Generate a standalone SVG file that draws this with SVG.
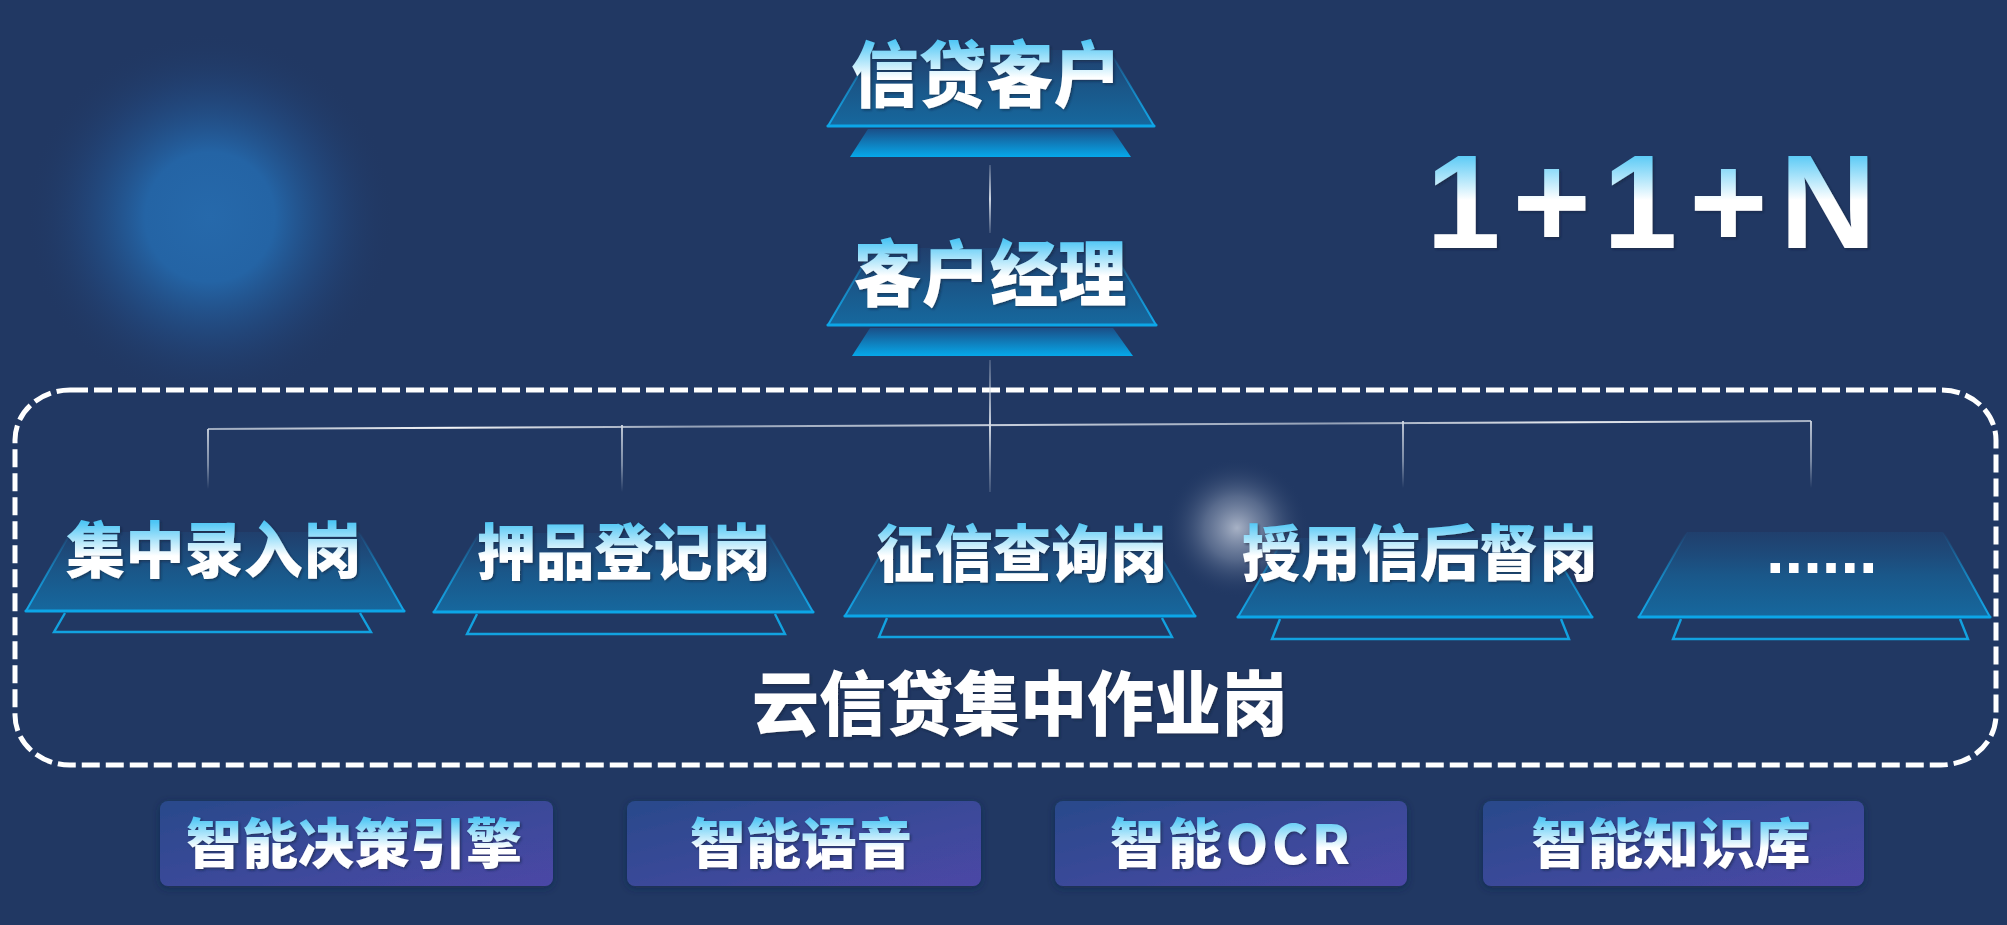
<svg xmlns="http://www.w3.org/2000/svg" width="2007" height="925" viewBox="0 0 2007 925">
<defs>
  <style>
    .cjk{font-family:"Noto Sans CJK SC","Noto Sans",sans-serif;font-weight:900;text-anchor:middle}
    .side{fill:none;stroke:url(#sideG);stroke-width:2}
    .base{stroke:#0ca6e8;stroke-width:3.2;stroke-linecap:round}
    .up{fill:url(#upG)}
    .low{fill:url(#lowG)}
    .lowline{fill:none;stroke:#12a2e0;stroke-width:2.4;stroke-linejoin:miter}
    .btn{fill:url(#btnG)}
    .drop{fill:url(#dropG)}
  </style>
  <radialGradient id="bigGlow" cx="0.5" cy="0.5" r="0.5">
    <stop offset="0" stop-color="#2669ab"/>
    <stop offset="0.35" stop-color="#2464a5"/>
    <stop offset="0.7" stop-color="#22487e" stop-opacity="0.6"/>
    <stop offset="1" stop-color="#213863" stop-opacity="0"/>
  </radialGradient>
  <radialGradient id="whiteGlow" cx="0.5" cy="0.5" r="0.5">
    <stop offset="0" stop-color="#d4dae6" stop-opacity="0.75"/>
    <stop offset="0.45" stop-color="#a9b4c9" stop-opacity="0.4"/>
    <stop offset="1" stop-color="#213863" stop-opacity="0"/>
  </radialGradient>
  <linearGradient id="upG" x1="0" y1="0" x2="0" y2="1">
    <stop offset="0" stop-color="#1e4e80" stop-opacity="0.35"/>
    <stop offset="0.5" stop-color="#1a5789"/>
    <stop offset="1" stop-color="#16689e"/>
  </linearGradient>
  <linearGradient id="sideG" x1="0" y1="0" x2="0" y2="1">
    <stop offset="0" stop-color="#13a8ea" stop-opacity="0"/>
    <stop offset="0.5" stop-color="#13a8ea" stop-opacity="0.6"/>
    <stop offset="1" stop-color="#13a8ea"/>
  </linearGradient>
  <linearGradient id="lowG" x1="0" y1="0" x2="0" y2="1">
    <stop offset="0" stop-color="#1a4f88"/>
    <stop offset="1" stop-color="#06a8ea"/>
  </linearGradient>
  <linearGradient id="btnG" x1="0" y1="0" x2="1" y2="1">
    <stop offset="0" stop-color="#294a8b"/>
    <stop offset="1" stop-color="#4b47a6"/>
  </linearGradient>
  <linearGradient id="dropG" x1="0" y1="0" x2="0" y2="1">
    <stop offset="0" stop-color="#d0d7e2" stop-opacity="0.9"/>
    <stop offset="0.6" stop-color="#b5c0d0" stop-opacity="0.6"/>
    <stop offset="1" stop-color="#b5c0d0" stop-opacity="0"/>
  </linearGradient>
  <linearGradient id="midG" x1="0" y1="0" x2="0" y2="1">
    <stop offset="0" stop-color="#d0d7e2" stop-opacity="0.2"/>
    <stop offset="0.5" stop-color="#d8dee8" stop-opacity="0.95"/>
    <stop offset="1" stop-color="#d0d7e2" stop-opacity="0.15"/>
  </linearGradient>
  <linearGradient id="hG" gradientUnits="userSpaceOnUse" x1="208" y1="0" x2="1811" y2="0">
    <stop offset="0" stop-color="#c5cedb" stop-opacity="0.75"/>
    <stop offset="0.15" stop-color="#ffffff" stop-opacity="0.95"/>
    <stop offset="0.3" stop-color="#c5cedb" stop-opacity="0.7"/>
    <stop offset="0.5" stop-color="#d8dee8" stop-opacity="0.9"/>
    <stop offset="0.7" stop-color="#c5cedb" stop-opacity="0.7"/>
    <stop offset="0.85" stop-color="#ffffff" stop-opacity="0.9"/>
    <stop offset="1" stop-color="#c5cedb" stop-opacity="0.8"/>
  </linearGradient>
  <linearGradient id="t1" gradientUnits="userSpaceOnUse" x1="0" y1="40" x2="0" y2="78">
    <stop offset="0" stop-color="#4ec6f5"/><stop offset="1" stop-color="#ffffff"/>
  </linearGradient>
  <linearGradient id="t2" gradientUnits="userSpaceOnUse" x1="0" y1="240" x2="0" y2="276">
    <stop offset="0" stop-color="#4ec6f5"/><stop offset="1" stop-color="#ffffff"/>
  </linearGradient>
  <linearGradient id="t3" gradientUnits="userSpaceOnUse" x1="0" y1="522" x2="0" y2="556">
    <stop offset="0" stop-color="#4ec6f5"/><stop offset="1" stop-color="#ffffff"/>
  </linearGradient>
  <linearGradient id="t4" gradientUnits="userSpaceOnUse" x1="0" y1="818" x2="0" y2="848">
    <stop offset="0" stop-color="#4ec6f5"/><stop offset="1" stop-color="#ffffff"/>
  </linearGradient>
  <linearGradient id="t5" gradientUnits="userSpaceOnUse" x1="0" y1="152" x2="0" y2="200">
    <stop offset="0" stop-color="#4ec6f5"/><stop offset="1" stop-color="#ffffff"/>
  </linearGradient>
  <filter id="ts" x="-10%" y="-20%" width="120%" height="140%">
    <feDropShadow dx="1.5" dy="1.5" stdDeviation="0.8" flood-color="#0c1b36" flood-opacity="0.55"/>
  </filter>
  <filter id="bs" x="-10%" y="-20%" width="120%" height="140%">
    <feDropShadow dx="0" dy="2" stdDeviation="4" flood-color="#16264a" flood-opacity="0.6"/>
  </filter>
</defs>

<rect x="0" y="0" width="2007" height="925" fill="#213863"/>
<ellipse cx="210" cy="217" rx="185" ry="185" fill="url(#bigGlow)"/>
<ellipse cx="1237" cy="528" rx="72" ry="70" fill="url(#whiteGlow)"/>

<text x="1426" y="248" font-family="Liberation Sans, Arial, sans-serif" font-weight="700" font-size="134" letter-spacing="12" fill="url(#t5)" filter="url(#ts)">1+1+N</text>

<rect id="frame" x="15" y="390" width="1981" height="375" rx="55" ry="50" fill="none" stroke="#ffffff" stroke-width="5" stroke-dasharray="18 6"/>

<g id="connectors">
  <rect x="989" y="165" width="2" height="68" fill="url(#midG)"/>
  <rect x="989" y="360" width="2" height="132" fill="url(#midG)"/>
  <line x1="208" y1="429" x2="1811" y2="421" stroke="url(#hG)" stroke-width="2"/>
  <rect x="207" y="429" width="2" height="60" class="drop"/>
  <rect x="621" y="425" width="2" height="67" class="drop"/>
  <rect x="1402" y="421" width="2" height="67" class="drop"/>
  <rect x="1810" y="421" width="2" height="67" class="drop"/>
</g>

<g id="node-xindaikehu">
  <polygon class="low" points="868,129 1112,129 1131,157 850,157"/>
  <polygon class="up" points="873,50 1109,50 1154,126 828,126"/>
  <path class="side" d="M873,50 L828,126 M1109,50 L1154,126"/>
  <line class="base" x1="828" y1="126" x2="1154" y2="126"/>
  <text class="cjk" x="986" y="101" font-size="72" textLength="270" lengthAdjust="spacingAndGlyphs" fill="url(#t1)" filter="url(#ts)">信贷客户</text>
</g>

<g id="node-kehujingli">
  <polygon class="low" points="870,328 1113,328 1133,356 852,356"/>
  <polygon class="up" points="873,248 1111,248 1156,325 828,325"/>
  <path class="side" d="M873,248 L828,325 M1111,248 L1156,325"/>
  <line class="base" x1="828" y1="325" x2="1156" y2="325"/>
  <text class="cjk" x="990" y="300" font-size="72" textLength="273" lengthAdjust="spacingAndGlyphs" fill="url(#t2)" filter="url(#ts)">客户经理</text>
</g>

<g id="node-jizhongluru">
  <path class="lowline" d="M65,613 L54,632 L371,632 L360,613"/>
  <polygon class="up" points="71,532 359,532 404,611 26,611"/>
  <path class="side" d="M71,532 L26,611 M359,532 L404,611"/>
  <line class="base" x1="26" y1="611" x2="404" y2="611"/>
  <text class="cjk" x="214" y="573" font-size="61" textLength="296" lengthAdjust="spacingAndGlyphs" fill="url(#t3)" filter="url(#ts)">集中录入岗</text>
</g>

<g id="node-yapindengji">
  <path class="lowline" d="M477,614 L467,634 L785,634 L775,614"/>
  <polygon class="up" points="479,533 768,533 813,612 434,612"/>
  <path class="side" d="M479,533 L434,612 M768,533 L813,612"/>
  <line class="base" x1="434" y1="612" x2="813" y2="612"/>
  <text class="cjk" x="624" y="575" font-size="61" textLength="294" lengthAdjust="spacingAndGlyphs" fill="url(#t3)" filter="url(#ts)">押品登记岗</text>
</g>

<g id="node-zhengxinchaxun">
  <path class="lowline" d="M887,618 L879,637 L1172,637 L1162,618"/>
  <polygon class="up" points="890,538 1150,538 1195,616 845,616"/>
  <path class="side" d="M890,538 L845,616 M1150,538 L1195,616"/>
  <line class="base" x1="845" y1="616" x2="1195" y2="616"/>
  <text class="cjk" x="1022" y="577" font-size="62" textLength="292" lengthAdjust="spacingAndGlyphs" fill="url(#t3)" filter="url(#ts)">征信查询岗</text>
</g>

<g id="node-shouyongxinhoudu">
  <path class="lowline" d="M1280,619 L1272,639 L1569,639 L1561,619"/>
  <polygon class="up" points="1284,538 1546,538 1592,617 1238,617"/>
  <path class="side" d="M1284,538 L1238,617 M1546,538 L1592,617"/>
  <line class="base" x1="1238" y1="617" x2="1592" y2="617"/>
  <text class="cjk" x="1420" y="576" font-size="61" textLength="356" lengthAdjust="spacingAndGlyphs" fill="url(#t3)" filter="url(#ts)">授用信后督岗</text>
</g>

<g id="node-more">
  <path class="lowline" d="M1681,619 L1673,639 L1968,639 L1960,619"/>
  <polygon class="up" points="1687,532 1943,532 1990,617 1639,617"/>
  <path class="side" d="M1687,532 L1639,617 M1943,532 L1990,617"/>
  <line class="base" x1="1639" y1="617" x2="1990" y2="617"/>
  <text x="1766" y="573" font-family="Liberation Sans, Arial, sans-serif" font-weight="700" font-size="67" fill="#ffffff">......</text>
</g>

<g id="label-group">
  <text class="cjk" x="1020" y="730" font-size="70" textLength="536" lengthAdjust="spacingAndGlyphs" fill="#ffffff" filter="url(#ts)">云信贷集中作业岗</text>
</g>

<g id="btn-juece">
  <rect class="btn" x="160" y="801" width="393" height="85" rx="8" filter="url(#bs)"/>
  <text class="cjk" x="354" y="864" font-size="54" textLength="336" lengthAdjust="spacingAndGlyphs" fill="url(#t4)" filter="url(#ts)">智能决策引擎</text>
</g>
<g id="btn-yuyin">
  <rect class="btn" x="627" y="801" width="354" height="85" rx="8" filter="url(#bs)"/>
  <text class="cjk" x="801" y="864" font-size="54" textLength="222" lengthAdjust="spacingAndGlyphs" fill="url(#t4)" filter="url(#ts)">智能语音</text>
</g>
<g id="btn-ocr">
  <rect class="btn" x="1055" y="801" width="352" height="85" rx="8" filter="url(#bs)"/>
  <text class="cjk" x="1230" y="864" font-size="54" textLength="240" lengthAdjust="spacing" fill="url(#t4)" filter="url(#ts)">智能OCR</text>
</g>
<g id="btn-zhishiku">
  <rect class="btn" x="1483" y="801" width="381" height="85" rx="8" filter="url(#bs)"/>
  <text class="cjk" x="1671" y="864" font-size="54" textLength="279" lengthAdjust="spacingAndGlyphs" fill="url(#t4)" filter="url(#ts)">智能知识库</text>
</g>
</svg>
